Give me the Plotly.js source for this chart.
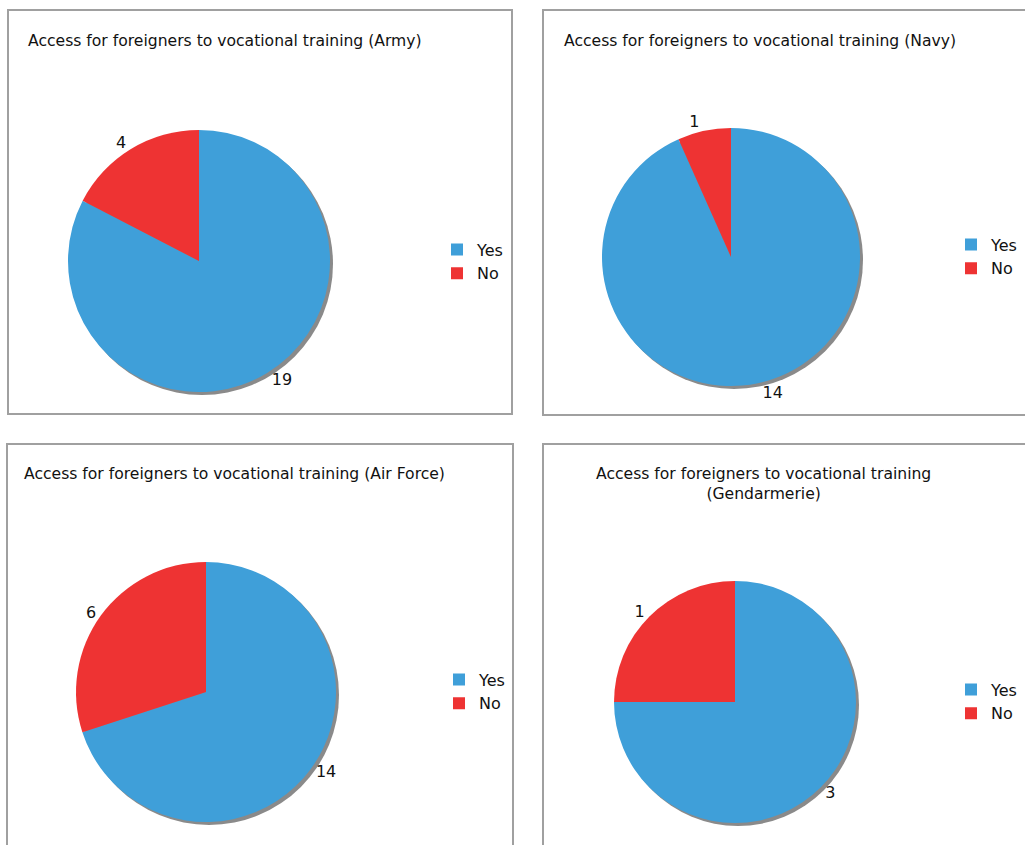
<!DOCTYPE html>
<html>
<head>
<meta charset="utf-8">
<script src="https://cdn.plot.ly/plotly-3.0.1.min.js"></script>
<style>html,body{margin:0;padding:0;background:#fff;}#chart{width:1025px;height:845px;}</style>
</head>
<body>
<div id="chart"></div>
<script>
// ---- data ----
const categories = ["Yes", "No"];
const titles = [
  "Access for foreigners to vocational training (Army)",
  "Access for foreigners to vocational training (Navy)",
  "Access for foreigners to vocational training (Air Force)",
  "Access for foreigners to vocational training<br>(Gendarmerie)"
];
const armyValues = [19, 4];
const navyValues = [14, 1];
const airForceValues = [14, 6];
const gendarmerieValues = [3, 1];
const colors = ["#3f9fd9", "#ee3333"];

// ---- layout helpers (pixel -> paper) ----
const W = 1025, H = 845;
const px = v => v / W;
const py = v => 1 - v / H;
const FONT = "DejaVu Sans, Verdana, sans-serif";
const FS = 16;
const TFS = 15.6;

const panels = [
  {values: armyValues,        cx: 199, cy: 261, r: 131, box: [8, 10, 512, 414],   leg: [437, 261.5], title: {x: 26,  y: 41,    anchor: "left"}},
  {values: navyValues,        cx: 731, cy: 257, r: 129, box: [543, 10, 1032, 415], leg: [951, 256.5], title: {x: 562, y: 41,    anchor: "left"}},
  {values: airForceValues,    cx: 206, cy: 692, r: 130, box: [7, 444, 513, 852],   leg: [439, 691.5], title: {x: 22,  y: 474,   anchor: "left"}},
  {values: gendarmerieValues, cx: 735, cy: 702, r: 121, box: [543, 444, 1032, 852], leg: [951, 701.5], title: {x: 763, y: 484.5, anchor: "center"}}
];

const data = [];
const shapes = [];
const annotations = [];
const layout = {
  width: W, height: H,
  margin: {l: 0, r: 0, t: 0, b: 0, autoexpand: false},
  paper_bgcolor: "#fff",
  font: {family: FONT, size: FS, color: "#111"},
  showlegend: true,
  hovermode: false
};

panels.forEach((p, i) => {
  const legName = i === 0 ? "legend" : "legend" + (i + 1);
  // zero-width spaces keep each panel's legend entries distinct (pie labels are shared across traces otherwise)
  const zw = "\u200B".repeat(i);
  const total = p.values.reduce((a, b) => a + b, 0);
  // drop shadow, drawn from the same total
  data.push({
    type: "pie",
    labels: ["shadow" + i],
    values: [total],
    marker: {colors: ["#8a8a8a"], line: {width: 0}},
    textinfo: "none",
    showlegend: false,
    domain: {x: [px(p.cx - p.r + 3), px(p.cx + p.r + 3)], y: [py(p.cy + p.r + 3), py(p.cy - p.r + 3)]},
    hoverinfo: "skip"
  });
  data.push({
    type: "pie",
    labels: categories.map(c => c + zw),
    values: p.values,
    sort: false,
    direction: "clockwise",
    rotation: 0,
    marker: {colors: colors, line: {width: 0}},
    textinfo: "value",
    textposition: "outside",
    outsidetextfont: {family: FONT, size: FS, color: "#111"},
    domain: {x: [px(p.cx - p.r), px(p.cx + p.r)], y: [py(p.cy + p.r), py(p.cy - p.r)]},
    legend: legName,
    hoverinfo: "skip"
  });
  layout[legName] = {
    x: px(p.leg[0]), y: py(p.leg[1]),
    xanchor: "left", yanchor: "middle",
    bgcolor: "rgba(0,0,0,0)", borderwidth: 0,
    font: {family: FONT, size: FS, color: "#111"},
    tracegroupgap: 0
  };
  shapes.push({
    type: "rect", xref: "paper", yref: "paper",
    x0: px(p.box[0]), x1: px(p.box[2]), y0: py(p.box[3]), y1: py(p.box[1]),
    line: {color: "#a0a0a0", width: 2}, fillcolor: "rgba(0,0,0,0)", layer: "below"
  });
  annotations.push({
    xref: "paper", yref: "paper",
    x: px(p.title.x), y: py(p.title.y),
    xanchor: p.title.anchor, yanchor: "middle",
    align: "center",
    text: titles[i], showarrow: false,
    font: {family: FONT, size: TFS, color: "#111"}
  });
});

layout.shapes = shapes;
layout.annotations = annotations;

Plotly.newPlot("chart", data, layout, {displayModeBar: false, staticPlot: true});
</script>
</body>
</html>
